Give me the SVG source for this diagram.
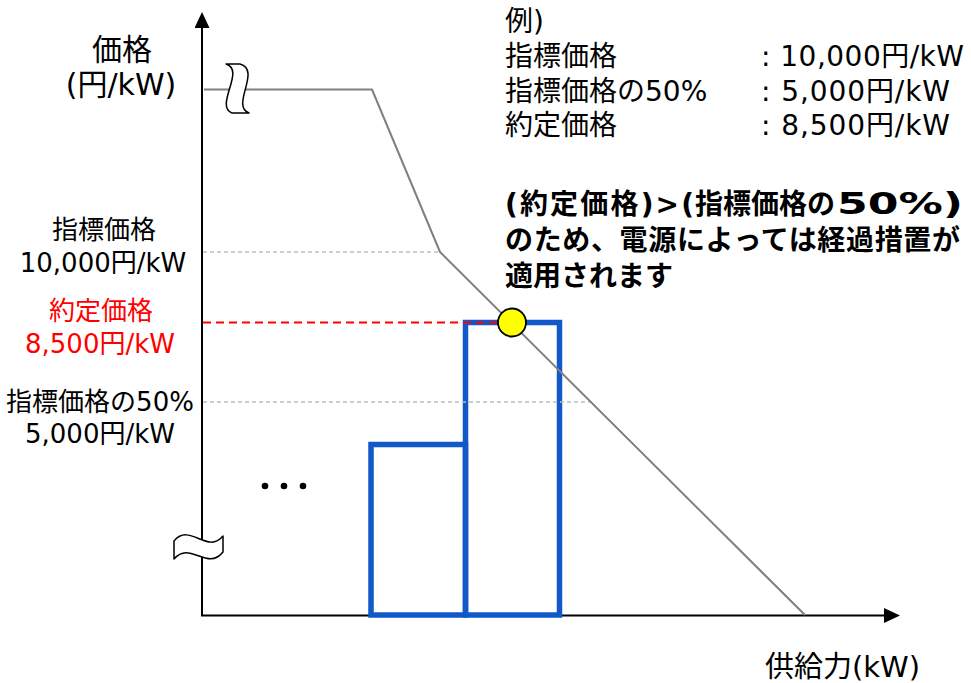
<svg xmlns="http://www.w3.org/2000/svg" width="971" height="683" viewBox="0 0 971 683">
<style>
text{font-family:"DejaVu Sans","Noto Sans CJK JP",sans-serif;fill:#000}
.t26{font-size:26px}
.t28{font-size:28px}
.b28{font-size:28px;font-weight:bold}
.red{fill:#FF0000}
.mid{text-anchor:middle}
.axis{stroke:#000;stroke-width:2;fill:none}
.guide{stroke:#BFBFBF;stroke-width:1.3;stroke-dasharray:4 3;fill:none}
.redguide{stroke:#FF0000;stroke-width:2;stroke-dasharray:8 5;fill:none}
.curve{stroke:#808080;stroke-width:2;fill:none;stroke-linejoin:round}
.bar{stroke:#1158C8;stroke-width:5.5;fill:none}
.brk{stroke:#000;stroke-width:1.5;fill:#fff;stroke-linejoin:round}
</style>
<defs>
<marker id="arrow" viewBox="0 0 16 15" refX="0" refY="7.5" markerWidth="16" markerHeight="15" markerUnits="userSpaceOnUse" orient="auto">
<path d="M0,0 L16,7.5 L0,15 Z" fill="#000"/>
</marker>
</defs>
<rect width="971" height="683" fill="#fff"/>

<g id="axes">
<line class="axis" x1="202" y1="616" x2="202" y2="28" marker-end="url(#arrow)"/>
<line class="axis" x1="201" y1="615.5" x2="884" y2="615.5" marker-end="url(#arrow)"/>
</g>

<g id="bars">
<rect id="bar1" class="bar" x="371" y="444.5" width="94.5" height="170.5"/>
<rect id="bar2" class="bar" x="465.5" y="322.5" width="94" height="292.5"/>
</g>

<g id="connectors">
<line class="guide" x1="203" y1="252" x2="440" y2="252"/>
<line class="guide" x1="203" y1="402" x2="591" y2="402"/>
<line class="redguide" x1="203" y1="322.5" x2="499" y2="322.5"/>
<polyline id="price-curve" class="curve" points="204,89.5 372,89.5 440,252 805,615"/>
</g>

<g id="break-top">
<path class="brk" d="M226,64 L240,64 C262,70 230,106 249,113 L232,113 C214,106 246,70 226,64 Z"/>
</g>
<g id="break-bottom">
<path class="brk" d="M174,541 C190,522 207,555 223,536 L223,552 C207,572 190,540 174,559 Z"/>
</g>

<g id="point">
<circle cx="512" cy="322.5" r="14" fill="#FFFF00" stroke="#000" stroke-width="1.8"/>
</g>

<g id="dots">
<circle cx="265" cy="486" r="3.3" fill="#000"/>
<circle cx="284" cy="486" r="3.3" fill="#000"/>
<circle cx="303" cy="486" r="3.3" fill="#000"/>
</g>

<g id="y-label">
<text class="mid" x="122" y="60" font-size="30">価格</text>
<text class="mid" x="121" y="95" font-size="30">(円/kW)</text>
</g>

<g id="x-label">
<text x="765" y="677" font-size="29">供給力(kW)</text>
</g>

<g id="label-index">
<text class="t26 mid" x="104" y="239">指標価格</text>
<text class="t26 mid" x="103" y="272">10,000円/kW</text>
</g>
<g id="label-contract">
<text class="t26 mid red" x="101" y="320">約定価格</text>
<text class="t26 mid red" x="100" y="353">8,500円/kW</text>
</g>
<g id="label-half">
<text class="t26 mid" x="100" y="411">指標価格の50%</text>
<text class="t26 mid" x="100" y="443">5,000円/kW</text>
</g>

<g id="example">
<text class="t28" x="505" y="31">例)</text>
<text class="t28" x="505" y="66">指標価格</text>
<text class="t28" x="505" y="101">指標価格の50%</text>
<text class="t28" x="505" y="135">約定価格</text>
<text class="t28" x="761" y="66" textLength="203" lengthAdjust="spacing">: 10,000円/kW</text>
<text class="t28" x="761" y="101" textLength="189" lengthAdjust="spacing">: 5,000円/kW</text>
<text class="t28" x="761" y="135" textLength="189" lengthAdjust="spacing">: 8,500円/kW</text>
</g>

<g id="note">
<text class="b28" y="214"><tspan x="505" textLength="189" lengthAdjust="spacing">(約定価格)&gt;(</tspan><tspan x="695">指標価格の</tspan><tspan x="837" font-size="31" textLength="126" lengthAdjust="spacingAndGlyphs">50%)</tspan></text>
<text class="b28" x="505" y="250" textLength="455" lengthAdjust="spacing">のため、電源によっては経過措置が</text>
<text class="b28" x="505" y="286">適用されます</text>
</g>
</svg>
